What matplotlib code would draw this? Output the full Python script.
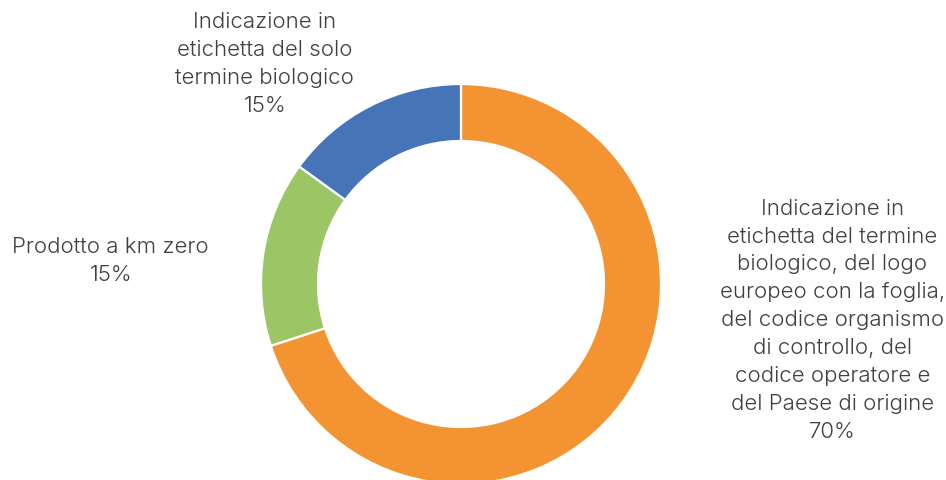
import matplotlib.pyplot as plt

# data
labels = [
    "Indicazione in\netichetta del termine\nbiologico, del logo\neuropeo con la foglia,\ndel codice organismo\ndi controllo, del\ncodice operatore e\ndel Paese di origine",
    "Prodotto a km zero",
    "Indicazione in\netichetta del solo\ntermine biologico",
]
values = [70, 15, 15]
colors = ["#F39332", "#9CC565", "#4674B9"]

# label anchor positions (figure fraction)
label_pos = [(0.880, 0.333), (0.117, 0.456), (0.280, 0.867)]

plt.rcParams['font.family'] = ['Inter', 'DejaVu Sans']

W, H = 946, 480
fig = plt.figure(figsize=(W / 100, H / 100), dpi=100)
cx, cy, r = 461, 480 - 284, 200
ax = fig.add_axes([(cx - r) / W, (cy - r) / H, 2 * r / W, 2 * r / H])

total = sum(values)
ax.pie(values, colors=colors, startangle=90, counterclock=False, radius=1,
       wedgeprops=dict(width=0.285, edgecolor='white', linewidth=1.6))
ax.set_xlim(-1, 1)
ax.set_ylim(-1, 1)
ax.set_aspect('equal')
ax.axis('off')

for lab, v, (x, y) in zip(labels, values, label_pos):
    fig.text(x, y, f"{lab}\n{round(100 * v / total)}%", ha='center', va='center',
             multialignment='center', fontsize=16, fontweight=300,
             color='#404040', linespacing=1.49)

fig.savefig("out.png", dpi=100)
